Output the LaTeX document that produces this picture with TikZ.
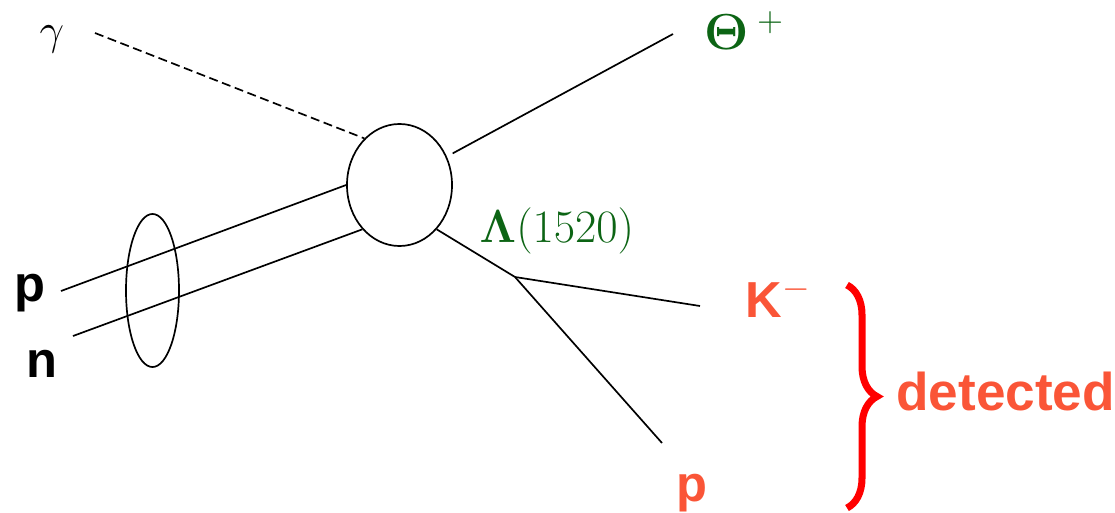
\RequirePackage{fix-cm}
\documentclass[tikz,border=0pt]{standalone}
\usepackage{amsmath}
\usepackage[no-math]{fontspec}
\setsansfont{Liberation Sans}
\usepackage{tikz}
\usetikzlibrary{shapes,arrows,positioning,decorations.pathreplacing}

\definecolor{resgreen}{RGB}{12,100,20}
\definecolor{detorange}{RGB}{250,85,55}
\definecolor{bracered}{RGB}{255,0,0}

\begin{document}
\begin{tikzpicture}[
    x=0.025cm, y=-0.025cm,
    line/.style={line width=1.2pt},
    photon/.style={line width=1.2pt, dash pattern=on 6.4pt off 3.3pt},
    blob/.style={ellipse, draw, line width=1.2pt, inner sep=0pt, minimum width=2.625cm, minimum height=3.05cm},
    pair/.style={ellipse, draw, line width=1.2pt, inner sep=0pt, minimum width=1.325cm, minimum height=3.825cm},
    nucleon/.style={inner sep=0pt, anchor=base, font=\sffamily\bfseries\fontsize{36}{40}\selectfont},
    decay/.style={nucleon, text=detorange},
    photonlab/.style={inner sep=0pt, anchor=base, font=\fontsize{31}{34}\selectfont},
    reson/.style={inner sep=0pt, anchor=base, text=resgreen, font=\fontsize{36}{40}\selectfont},
    brace/.style={decorate, decoration={brace, amplitude=0.75cm}, draw=bracered, line width=5pt}
]
\useasboundingbox (0,0) rectangle (1115,512);
\node (blob) [blob] at (399.5,185) {};
\node (pair) [pair] at (152.5,290.5) {};
\node (gam) [photonlab] at (52,45) {$\gamma$};
\node (theta) [reson] at (744,50) {$\boldsymbol{\Theta}\,{}^{+}$};
\node (lam) [reson, font=\fontsize{33}{36}\selectfont] at (557,242) {$\boldsymbol{\Lambda}(1520)$};
\node (kmin) [decay] at (778,317) {K$^-$};
\node (pout) [decay] at (692,501) {p};
\node (pin) [nucleon] at (30,301) {p};
\node (nin) [nucleon] at (42,377) {n};
\node (det) [decay, anchor=base west, font=\sffamily\bfseries\fontsize{37.8}{40}\selectfont] at (896,410) {detected};
\coordinate (gamstart) at (95,33);
\coordinate (pstart) at (61,291);
\coordinate (nstart) at (73,336);
\coordinate (thetaend) at (673,34);
\coordinate (vtx) at (515,277);
\coordinate (kend) at (700,306);
\coordinate (pend) at (662,443);
\coordinate (bracetop) at (847,285);
\coordinate (bracebot) at (847,508);
\draw [photon] (gamstart) -- (blob.127);
\draw [line] (pstart) -- (blob.180);
\draw [line] (nstart) -- (blob.230);
\draw [line, shorten <=4.7pt] (blob.31) -- (thetaend);
\draw [line] (blob.310) -- (vtx);
\draw [line] (vtx) -- (kend);
\draw [line] (vtx) -- (pend);
\draw [brace] (bracetop) -- (bracebot);
\end{tikzpicture}
\end{document}
